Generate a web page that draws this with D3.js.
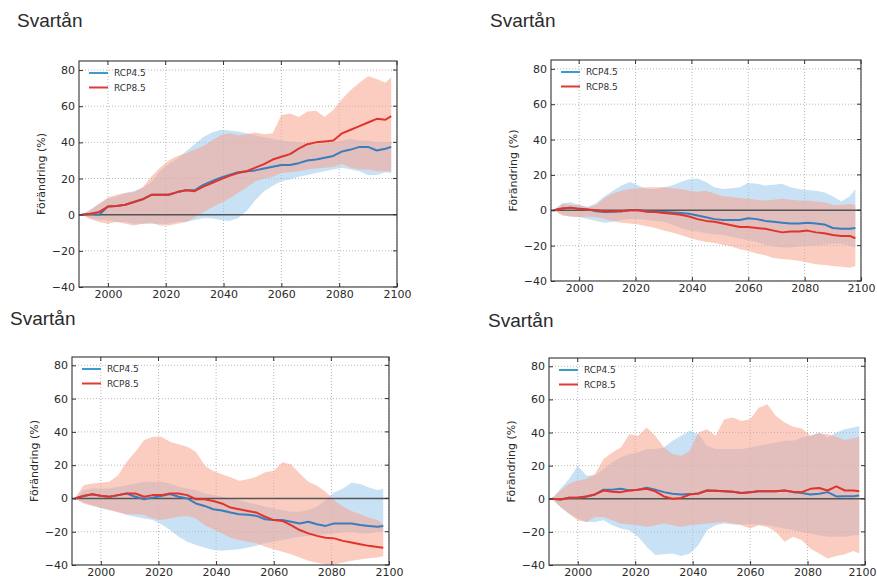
<!DOCTYPE html>
<html>
<head>
<meta charset="utf-8">
<script src="https://cdn.jsdelivr.net/npm/d3@7"></script>
<style>
  body { margin: 0; background: #fff; }
  svg { display: block; }
</style>
</head>
<body>
<svg id="chart" width="877" height="581"></svg>
<script>
// Years of the 30-year moving statistics (shared by every panel)
const years = [1991,1994,1997,2000,2003,2006,2009,2012,2015,2018,
               2021,2024,2027,2030,2033,2036,2039,2042,2045,2048,
               2051,2054,2057,2060,2063,2066,2069,2072,2075,2078,
               2081,2084,2087,2090,2093,2096,2098];
const xTicks = [2000, 2020, 2040, 2060, 2080, 2100];
const yTicks = [-40, -20, 0, 20, 40, 60, 80];
const scenarios = ["RCP4.5", "RCP8.5"];
const titleText = "Svartån";
const yLabelText = "Förändring (%)";

// Panel A
const A45mid = [0,0.5,0,4.5,4.8,5.5,7,8.5,11,11, 11,12.5,13.5,13.5,16.5,18.5,20.5,22,23.5,24, 24.5,25.5,26.5,27.5,27.5,28.5,30,30.5,31.5,32.5, 35,36,37.5,37.5,35.5,36.5,37.5];
const A45lo  = [0,-2,-3,-3,-4,-4,-5,-5,-5,-5, -5,-4,-4,-3,-2,-2,-3,-3.5,-2,2, 8,13,16,18.5,19.5,21,22,23,24,25, 26,25,24,22,22,23.5,23];
const A45hi  = [0,3,6,9,10,12,13,15,18,24, 28,31,35,39,43,45.5,47,46.5,46,45, 44,43,42,41,40.5,40,39.5,39,39.5,40, 41,42,41,41,40,40,40];
const A85mid = [0,0.5,1.5,4.5,4.8,5.5,7,8.5,11,11, 11,12.5,13.5,13,15.5,17.5,19.5,21.5,23,24, 26,28,30.5,32,33.5,36.5,39,40,40.5,41, 45,47,49,51,53,52.5,54.5];
const A85lo  = [0,-2.5,-4,-5,-4,-5,-6,-5,-4.5,-6, -6,-5,-4,-1.5,1.5,4,6.5,9,12,15, 18.5,20,21,23,23.5,24,25,25.5,26,26.5, 28,26,25,25,24,24,24];
const A85hi  = [0,2.5,6,9.5,11,12,12.5,15,21,26, 30,32.5,34,36,38,41,44,45,44,44.5, 45.5,44.5,45,55,56,54,57,57.5,54,58, 64,69,73,76.5,75,73,76];

// Panel B
const B45mid = [0,1,1.5,0.8,0.5,-0.5,-1,-0.8,-0.5,0, 0,-0.5,-0.8,-1,-1.2,-1.5,-2,-3,-4,-5, -5.5,-5.5,-5.5,-4.5,-5,-6,-6.5,-7,-7.5,-7.5, -7,-7.5,-8,-10,-10.5,-10.5,-10];
const B45lo  = [0,-2.5,-3.5,-4,-5,-6,-7,-6.5,-5.5,-5, -5,-5.5,-6,-6.5,-8,-10,-11.5,-12,-13,-13.5, -14,-15,-16,-17,-18,-19.5,-20.5,-21,-21,-20.5, -20,-20,-19.5,-19,-19,-20,-21];
const B45hi  = [0,4,4.5,3,2,4,8,11,14,16, 14,12,12,13,14,16,17.5,18,16,13, 12,12.5,13,15.5,15,14,14.5,15,13,12, 11.5,11,10,8,5,8,12];
const B85mid = [0,1,1.5,0.8,0.5,0,-0.5,-0.6,-0.5,0, 0,-0.8,-1,-1.5,-2,-2.5,-3.5,-5,-6,-6.5, -7.5,-8.5,-9.5,-9.5,-10,-10.5,-11.5,-12.5,-12,-12, -11.5,-12.5,-13,-14,-14.5,-14.5,-15.8];
const B85lo  = [0,-3,-3.5,-4,-3.5,-4,-5,-6,-7,-7.5, -8,-9,-10,-11.5,-12.5,-14,-15.5,-17,-18,-18.5, -19.5,-20.5,-22,-23,-24.5,-25.5,-27,-27.5,-28,-28.5, -29.5,-30.5,-31,-31.5,-32,-32.5,-31.5];
const B85hi  = [0,3.5,3,3,1.5,3,7,9.5,11,12, 12.5,13,13,13,12.5,12,11,10.5,11,9.5, 8,7.5,7,6.5,6,5.5,6,6.5,6,5.5, 5.5,5,4.5,3,3,3.5,3];

// Panel C
const C45mid = [0,1.5,2.5,1.6,1,2,3,1,-0.5,0.5, 1.5,2.6,1,0,-3,-4.5,-6.5,-7.2,-8.5,-9.5, -9.8,-10.5,-12.5,-13,-13,-14,-15,-14,-15.5,-16.5, -15,-15,-15,-16,-16.5,-17,-16.5];
const C45lo  = [0,-2.5,-4,-6,-7,-8,-10,-11,-12,-13, -15.5,-19,-23,-26,-28,-29.5,-31,-31.5,-31,-30.5, -29.5,-28.5,-27,-26,-25,-24,-23,-22.5,-22,-21.5, -21,-20.5,-20,-21,-21,-20,-20];
const C45hi  = [0,5,6,6,6,7,8,9,10,10, 10,9,7,6,5,3,2,1,0,-1, -2.5,-3.5,-5,-6,-7,-8,-8,-7,-5,-1, 3.5,6,9.5,8.7,6.6,5,5.6];
const C85mid = [0,1.5,2.5,1.6,1,2,3,3,1,2, 2,3,3,2,-0.5,-0.5,-1.5,-3,-5.5,-6.5, -7.5,-8.5,-11,-13,-13.5,-16,-19,-21,-22.5,-23.6, -24,-25.5,-26.5,-27.5,-28.5,-29.2,-29.6];
const C85lo  = [0,-3,-4.5,-5.5,-7,-8.5,-9.5,-9.5,-10,-12, -13,-12,-11,-10.5,-12,-16,-18.5,-21,-23.6,-25, -26,-27,-29,-30.6,-32,-33.5,-35.5,-37.5,-38.7,-39.5, -39.7,-38.5,-37.5,-36.7,-36,-35.5,-34.7];
const C85hi  = [0,8,9,9.5,10,14,22,28,35,37, 37,34,32.5,31,28,20,16.5,14.5,12.7,10.7, 11.5,13,15.7,16.7,21.8,20.5,15,10,7.7,4, -1,-5,-7.5,-9.5,-11.5,-13,-15.5];

// Panel D
const D45mid = [0,-0.5,0.6,0.6,1.4,2.6,5.5,5.5,6,5, 5.5,6.7,5.5,4,3,2.6,2.8,3.2,5,4.8, 4.6,4.2,3.5,4,4.5,4.6,4.5,5,4,3.5, 2.6,3,4,1.4,1.5,1.5,2];
const D45lo  = [0,-5,-9,-12,-14,-14,-13,-16,-18,-19, -23,-29,-34,-33.5,-33,-34.5,-33,-28,-19,-16, -15,-15.5,-15.5,-15.5,-15.5,-16,-17,-18,-19,-20, -21,-22,-23,-23,-23,-22,-22];
const D45hi  = [0,6,12,20,14,14,18,22,25,27, 28,30,30,31,35,38,41,39,32,30, 30,30,30,31,32,33,34,35,35,37, 38,40,37,40,42,43,44];
const D85mid = [0,-0.5,0.6,0.6,1.4,2.6,5,4.3,4,5, 5.5,6,4.5,1.4,0,0.5,2.6,3.2,5,4.8, 4.6,4.2,3.5,4,4.5,4.6,4.5,5,4.2,4, 6,6.5,5,7.5,5,5,4.5];
const D85lo  = [0,-5,-9,-13,-14,-11,-11,-13,-15,-15.5, -16,-17,-16,-15,-16,-17,-16,-15.5,-15,-14.5, -14,-15,-16,-18,-16,-17,-20,-26,-23,-25, -30,-33,-36,-34.5,-33.5,-31.5,-33];
const D85hi  = [0,5,9,11,12,15,24,28,31,39, 38,43,38,31,27,26,29,40,42,38, 48,49,47,48,55,57,50,46,43.5,42.5, 38,39.5,39,37.5,35.5,36.5,37.5];

// Layout of the four small multiples
const panels = [
  { id: "A", s45: [A45lo, A45mid, A45hi], s85: [A85lo, A85mid, A85hi], box: {l: 79,  r: 397, t: 61,  b: 287}, tx: 17,  ty: 27 },
  { id: "B", s45: [B45lo, B45mid, B45hi], s85: [B85lo, B85mid, B85hi], box: {l: 551, r: 861, t: 60,  b: 281}, tx: 490, ty: 27 },
  { id: "C", s45: [C45lo, C45mid, C45hi], s85: [C85lo, C85mid, C85hi], box: {l: 72,  r: 389, t: 357, b: 565}, tx: 10,  ty: 325 },
  { id: "D", s45: [D45lo, D45mid, D45hi], s85: [D85lo, D85mid, D85hi], box: {l: 549, r: 865, t: 358, b: 565}, tx: 488, ty: 327 }
];

const colors = {
  line45: "#3b7cbc", line85: "#e2332a",
  band45: "#9cc8ec", band85: "#f5a48c",
  legend45: "#3a9ccc", legend85: "#dc3c33"
};
const tickFont = "'DejaVu Sans', sans-serif";
const svgWidth = 877;

const svg = d3.select("#chart");
const defs = svg.append("defs");

panels.forEach(p => {
  const {l, r, t, b} = p.box;
  const x = d3.scaleLinear().domain([1990, 2100]).range([l, r]);
  const y = d3.scaleLinear().domain([-40, 85]).range([b, t]);
  const g = svg.append("g");

  // Title
  svg.append("text")
    .attr("x", p.tx).attr("y", p.ty)
    .attr("font-family", "'Liberation Sans', Arial, sans-serif")
    .attr("font-size", 19).attr("fill", "#2a2a2a")
    .text(titleText);

  defs.append("clipPath").attr("id", "clip" + p.id)
    .append("rect").attr("x", l).attr("y", t).attr("width", r - l).attr("height", b - t);

  const plot = g.append("g").attr("clip-path", `url(#clip${p.id})`);

  // Dotted grid
  plot.selectAll(".gx").data(xTicks).join("line")
    .attr("x1", d => x(d)).attr("x2", d => x(d)).attr("y1", t).attr("y2", b)
    .attr("stroke", "#b8b8b8").attr("stroke-width", 1).attr("stroke-dasharray", "1,2");
  plot.selectAll(".gy").data(yTicks).join("line")
    .attr("y1", d => y(d)).attr("y2", d => y(d)).attr("x1", l).attr("x2", r)
    .attr("stroke", "#b8b8b8").attr("stroke-width", 1).attr("stroke-dasharray", "1,2");

  const idx = d3.range(years.length);
  const area = (lo, hi) => d3.area()
    .x(i => x(years[i])).y0(i => y(lo[i])).y1(i => y(hi[i]))(idx);
  const line = vals => d3.line().x(i => x(years[i])).y(i => y(vals[i]))(idx);

  // Spread bands
  plot.append("path").attr("d", area(p.s45[0], p.s45[2]))
    .attr("fill", colors.band45).attr("fill-opacity", 0.55);
  plot.append("path").attr("d", area(p.s85[0], p.s85[2]))
    .attr("fill", colors.band85).attr("fill-opacity", 0.55);

  // Zero reference line
  plot.append("line").attr("x1", l).attr("x2", r).attr("y1", y(0)).attr("y2", y(0))
    .attr("stroke", "#555").attr("stroke-width", 1.6);

  // Median lines
  plot.append("path").attr("d", line(p.s45[1]))
    .attr("fill", "none").attr("stroke", colors.line45).attr("stroke-width", 2).attr("stroke-linejoin", "round");
  plot.append("path").attr("d", line(p.s85[1]))
    .attr("fill", "none").attr("stroke", colors.line85).attr("stroke-width", 2).attr("stroke-linejoin", "round");

  // Frame
  g.append("rect").attr("x", l).attr("y", t).attr("width", r - l).attr("height", b - t)
    .attr("fill", "none").attr("stroke", "#333").attr("stroke-width", 1.1);

  // Axes with inward ticks
  const xAxis = d3.axisBottom(x).tickValues(xTicks).tickFormat(d3.format("d"))
    .tickSizeInner(-4).tickSizeOuter(0).tickPadding(3);
  const yAxis = d3.axisLeft(y).tickValues(yTicks).tickFormat(d3.format("d"))
    .tickSizeInner(-4).tickSizeOuter(0).tickPadding(4);
  const gx = g.append("g").attr("transform", `translate(0,${b})`).call(xAxis);
  const gy = g.append("g").attr("transform", `translate(${l},0)`).call(yAxis);
  [gx, gy].forEach(ax => {
    ax.select(".domain").remove();
    ax.selectAll("line").attr("stroke", "#333");
    ax.selectAll("text").attr("font-family", tickFont).attr("font-size", 11).attr("fill", "#2a2a2a");
  });
  // Keep a year label that would run past the page edge inside it
  gx.selectAll(".tick").each(function(d) {
    const txt = d3.select(this).select("text");
    const w = txt.node().getComputedTextLength();
    if (x(d) + w / 2 > svgWidth - 1) {
      txt.attr("text-anchor", "end").attr("x", svgWidth - 1 - x(d));
    }
  });
  // Matching ticks on the top and right edges
  g.selectAll(".tt").data(xTicks).join("line")
    .attr("x1", d => x(d)).attr("x2", d => x(d)).attr("y1", t).attr("y2", t + 4).attr("stroke", "#333");
  g.selectAll(".tr").data(yTicks).join("line")
    .attr("y1", d => y(d)).attr("y2", d => y(d)).attr("x1", r).attr("x2", r - 4).attr("stroke", "#333");

  // Y-axis title
  g.append("text")
    .attr("transform", `translate(${l - 38},${(t + b) / 2}) rotate(-90)`)
    .attr("text-anchor", "middle").attr("dy", "0.35em")
    .attr("font-family", tickFont).attr("font-size", 11).attr("fill", "#2a2a2a")
    .text(yLabelText);

  // Legend
  const leg = g.append("g").attr("transform", `translate(${l + 10},${t + 12})`);
  scenarios.forEach((name, i) => {
    const row = leg.append("g").attr("transform", `translate(0,${i * 14.5})`);
    row.append("line").attr("x1", 0).attr("x2", 19).attr("y1", 0).attr("y2", 0)
      .attr("stroke", i === 0 ? colors.legend45 : colors.legend85).attr("stroke-width", 2);
    row.append("text").attr("x", 25).attr("y", 0).attr("dy", "0.35em")
      .attr("font-family", tickFont).attr("font-size", 9).attr("fill", "#333")
      .text(name);
  });
});
</script>
</body>
</html>
